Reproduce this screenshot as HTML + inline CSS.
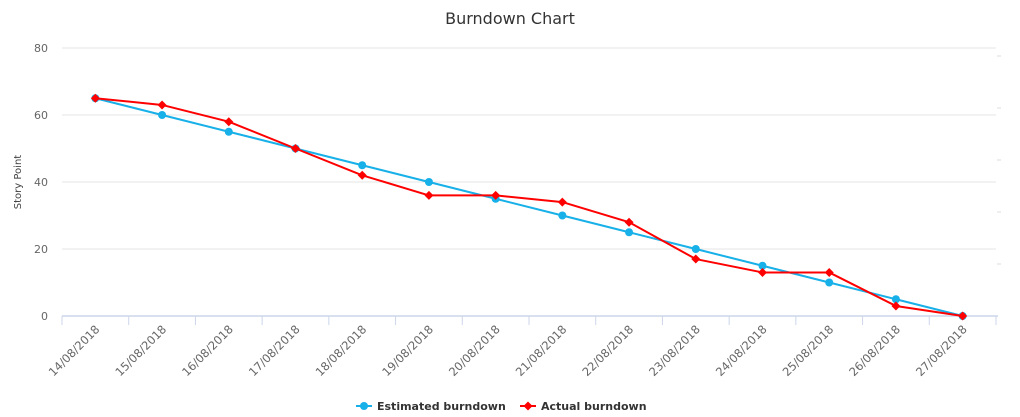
<!DOCTYPE html>
<html><head><meta charset="utf-8"><style>
body{margin:0;background:#fff;}
svg{display:block;font-family:"DejaVu Sans","Liberation Sans",sans-serif;}
</style></head><body>
<svg id="c" width="1020" height="417">
<text x="510" y="24" text-anchor="middle" font-size="16" fill="#333">Burndown Chart</text>
<text transform="translate(21,182) rotate(-90)" text-anchor="middle" font-size="10" fill="#444">Story Point</text>
<g id="grid"></g><g id="axes"></g><g id="series"></g>
<g>
<g>
<line x1="356" y1="406" x2="372" y2="406" stroke="#17b0e8" stroke-width="2"/>
<circle cx="364" cy="406" r="4" fill="#17b0e8"/>
<text x="377" y="410" font-size="11" font-weight="bold" fill="#333">Estimated burndown</text></g>
<g>
<line x1="520" y1="406" x2="536" y2="406" stroke="#f00" stroke-width="2"/>
<path d="M528 401.5 L532.5 406 L528 410.5 L523.5 406Z" fill="#f00"/>
<text x="541" y="410" font-size="11" font-weight="bold" fill="#333">Actual burndown</text></g>
</g>
</svg>
<script>
const categories=["14/08/2018","15/08/2018","16/08/2018","17/08/2018","18/08/2018","19/08/2018","20/08/2018","21/08/2018","22/08/2018","23/08/2018","24/08/2018","25/08/2018","26/08/2018","27/08/2018"];
const estimated=[65,60,55,50,45,40,35,30,25,20,15,10,5,0];
const actual=[65,63,58,50,42,36,36,34,28,17,13,13,3,0];
const yTicks=[0,20,40,60,80];
const NS="http://www.w3.org/2000/svg";
const X0=62,X1=996,Y0=316,Y1=48,YMAX=80;
const band=(X1-X0)/categories.length;
const xs=i=>X0+band*(i+0.5);
const ys=v=>Y0-(v/YMAX)*(Y0-Y1);
function mk(t,a,p){const e=document.createElementNS(NS,t);for(const k in a)e.setAttribute(k,a[k]);p.appendChild(e);return e;}
const grid=document.getElementById('grid'),axes=document.getElementById('axes'),ser=document.getElementById('series');
yTicks.forEach(v=>{
 if(v>0){const l=mk('line',{x1:X0,x2:X1,y1:ys(v),y2:ys(v),stroke:'#e6e6e6','stroke-width':1},grid);
 
 }
 const t=mk('text',{x:48,y:ys(v)+4,'text-anchor':'end','font-size':11,fill:'#666'},axes);t.textContent=v;
 
 
});
for(let k=0;k<5;k++){const y=56+k*52;const l=mk('line',{x1:997,x2:1001,y1:y,y2:y,stroke:'#ddd'},axes);
 
 }
const ax=mk('line',{x1:X0,x2:X1+2,y1:Y0,y2:Y0,stroke:'#ccd6eb','stroke-width':1.5},axes);


for(let i=0;i<=categories.length;i++){const x=X0+band*i;const l=mk('line',{x1:x,x2:x,y1:Y0,y2:Y0+9,stroke:'#ccd6eb'},axes);
 
 }
categories.forEach((c,i)=>{const x=xs(i)+5,y=Y0+14;
 const t=mk('text',{x:x,y:y,'text-anchor':'end','font-size':11.5,fill:'#666',transform:`rotate(-45 ${x} ${y})`},axes);t.textContent=c;
 
 });
function series(data,color,marker,name){
 const g=mk('g',{},ser);
 
 
 mk('polyline',{points:data.map((v,i)=>xs(i)+','+ys(v)).join(' '),fill:'none',stroke:color,'stroke-width':2,'stroke-linejoin':'round'},g);
 data.forEach((v,i)=>{const x=xs(i),y=ys(v);let m;
  if(marker==='c')m=mk('circle',{cx:x,cy:y,r:4,fill:color},g);
  else m=mk('path',{d:`M${x} ${y-4.5}L${x+4.5} ${y}L${x} ${y+4.5}L${x-4.5} ${y}Z`,fill:color},g);
  
  });
}
series(estimated,'#17b0e8','c','estimated-series');
series(actual,'#ff0000','d','actual-series');
</script>
</body></html>
